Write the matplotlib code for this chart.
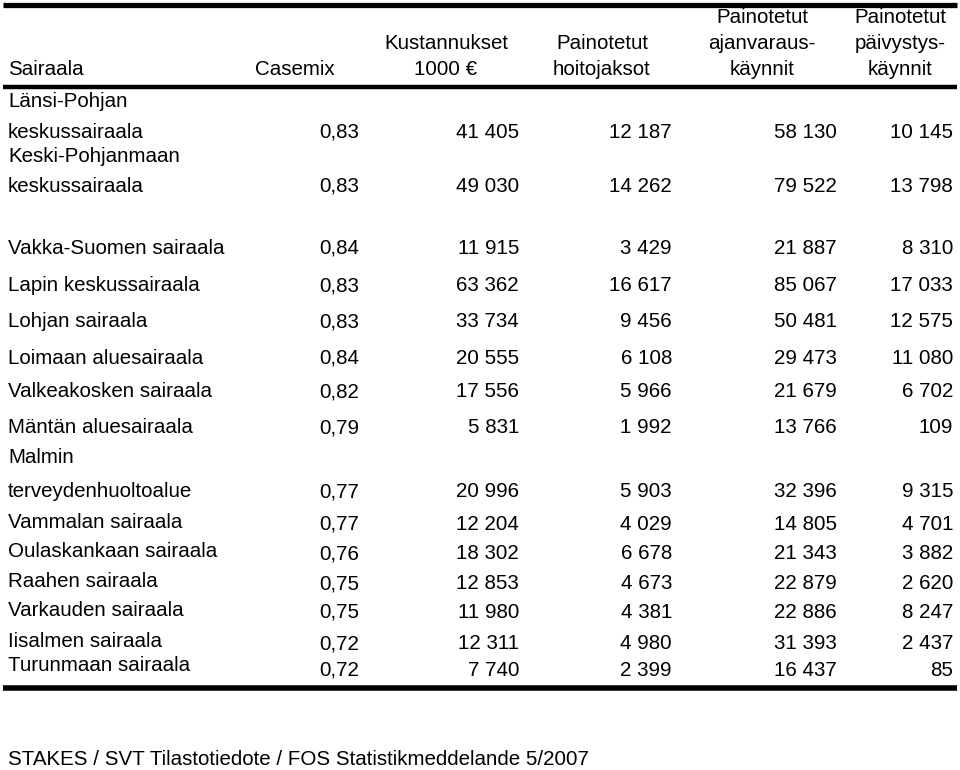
import matplotlib
matplotlib.use("Agg")
import matplotlib.pyplot as plt

plt.rcParams['font.family'] = ['Liberation Sans', 'DejaVu Sans']

# ---- data ----
hospitals = [
    "Länsi-Pohjan\nkeskussairaala",
    "Keski-Pohjanmaan\nkeskussairaala",
    "Vakka-Suomen sairaala",
    "Lapin keskussairaala",
    "Lohjan sairaala",
    "Loimaan aluesairaala",
    "Valkeakosken sairaala",
    "Mäntän aluesairaala",
    "Malmin\nterveydenhuoltoalue",
    "Vammalan sairaala",
    "Oulaskankaan sairaala",
    "Raahen sairaala",
    "Varkauden sairaala",
    "Iisalmen sairaala",
    "Turunmaan sairaala",
]
casemix = ["0,83", "0,83", "0,84", "0,83", "0,83", "0,84", "0,82", "0,79",
           "0,77", "0,77", "0,76", "0,75", "0,75", "0,72", "0,72"]
kustannukset = ["41 405", "49 030", "11 915", "63 362", "33 734", "20 555",
                "17 556", "5 831", "20 996", "12 204", "18 302", "12 853",
                "11 980", "12 311", "7 740"]
hoitojaksot = ["12 187", "14 262", "3 429", "16 617", "9 456", "6 108",
               "5 966", "1 992", "5 903", "4 029", "6 678", "4 673",
               "4 381", "4 980", "2 399"]
ajanvaraus = ["58 130", "79 522", "21 887", "85 067", "50 481", "29 473",
              "21 679", "13 766", "32 396", "14 805", "21 343", "22 879",
              "22 886", "31 393", "16 437"]
paivystys = ["10 145", "13 798", "8 310", "17 033", "12 575", "11 080",
             "6 702", "109", "9 315", "4 701", "3 882", "2 620",
             "8 247", "2 437", "85"]
headers = ["Sairaala", "Casemix", "Kustannukset\n1000 €",
           "Painotetut\nhoitojaksot", "Painotetut\najanvaraus-\nkäynnit",
           "Painotetut\npäivystys-\nkäynnit"]
source = "STAKES / SVT Tilastotiedote / FOS Statistikmeddelande 5/2007"

# ---- layout (pixels) ----
W, H = 960, 770
fig = plt.figure(figsize=(W / 100, H / 100), dpi=100)
ax = fig.add_axes([0, 0, 1, 1])
ax.set_xlim(0, W)
ax.set_ylim(H, 0)
ax.axis("off")

FS = 14.8
# baselines of the first line of each name, and of the values
name_base = [107, 162, 254, 291, 327, 364, 397, 433, 463, 528, 557, 587, 616, 647, 671]
val_base = [138, 192, 254, 291, 327, 364, 397, 433, 497, 530, 559, 589, 618, 649, 676]
col_right = [359, 519, 672, 837, 953]
header_x = [8, 295, 446, 602, 762, 900]
header_base = [23, 49, 75]

# header
for i, h in enumerate(headers):
    lines = h.split("\n")
    n = len(lines)
    for j, ln in enumerate(lines):
        y = header_base[3 - n + j]
        ha = "left" if i == 0 else "center"
        ax.text(header_x[i], y, ln, fontsize=FS, ha=ha, va="baseline")

# rules
ax.plot([3, 957], [4.5, 4.5], color="black", lw=3.8, solid_capstyle="butt")
ax.plot([3, 957], [87, 87], color="black", lw=3.2, solid_capstyle="butt")
ax.plot([3, 957], [687.5, 687.5], color="black", lw=4.0, solid_capstyle="butt")

# rows
cols = [casemix, kustannukset, hoitojaksot, ajanvaraus, paivystys]
for r, name in enumerate(hospitals):
    parts = name.split("\n")
    ax.text(8, name_base[r], parts[0], fontsize=FS, ha="left", va="baseline")
    if len(parts) == 2:
        ax.text(8, val_base[r], parts[1], fontsize=FS, ha="left", va="baseline")
    for c, col in enumerate(cols):
        ax.text(col_right[c], val_base[r], col[r], fontsize=FS, ha="right", va="baseline")

ax.text(8, 765, source, fontsize=FS, ha="left", va="baseline")

fig.savefig("out.png", dpi=100)
